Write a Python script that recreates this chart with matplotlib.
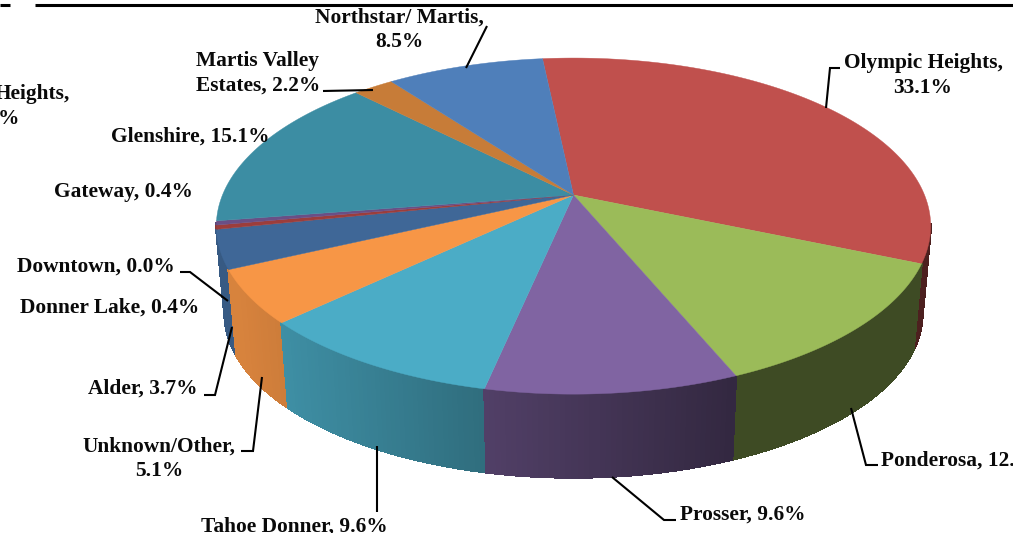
import numpy as np
import matplotlib
matplotlib.use("Agg")
import matplotlib.pyplot as plt
from matplotlib.colors import to_rgb

# ---- data ----
categories = ["Olympic Heights", "Ponderosa", "Prosser", "Tahoe Donner", "Unknown/Other",
              "Alder", "Donner Lake", "Downtown", "Gateway", "Glenshire",
              "Martis Valley Estates", "Northstar/ Martis", "Heights"]
values = [33.1, 12.3, 9.6, 9.6, 5.1, 3.7, 0.4, 0.0, 0.4, 15.1, 2.2, 8.5, 0.0]
colors = ["#C0504D", "#9BBB59", "#8064A2", "#4BACC6", "#F79646", "#3F6797", "#9C3D3B",
          "#7D9A48", "#6A4F86", "#3C8DA3", "#C77C38", "#4F7FBA", "#C0504D"]

# ---- label layout: text, x, y, horizontal alignment ----
labels = [
    ("Olympic Heights,\n33.1%", 923, 74, "center"),
    ("Northstar/ Martis,\n8.5%", 399, 28, "center"),
    ("Martis Valley\nEstates, 2.2%", 258, 72, "center"),
    ("Glenshire, 15.1%", 190, 135, "center"),
    ("Gateway, 0.4%", 123, 190, "center"),
    ("Downtown, 0.0%", 96, 265, "center"),
    ("Donner Lake, 0.4%", 110, 306, "center"),
    ("Alder, 3.7%", 143, 387, "center"),
    ("Unknown/Other,\n5.1%", 159, 457, "center"),
    ("Tahoe Donner, 9.6%", 294, 525, "center"),
    ("Prosser, 9.6%", 743, 513, "center"),
    ("Ponderosa, 12.3%", 881, 459, "left"),
    ("Heights,", 70, 93, "right"),
    ("0.0%", 19, 118, "right"),
]
leaders = [
    [(826, 108), (830, 68), (840, 68)],
    [(466, 68), (487, 26)],
    [(323, 91), (373, 90)],
    [(180, 272), (190, 272), (228, 301)],
    [(204, 395), (215, 395), (232, 327)],
    [(241, 451), (253, 451), (262, 377)],
    [(377, 446), (377, 512)],
    [(612, 477), (664, 520), (676, 520)],
    [(851, 408), (866, 465), (878, 465)],
]

# ---- projection of the tilted disc ----
CX, CY, A, B, K = 573.5, 195.0, 351.0, 162.3, 0.185
START_DEG = -6.0
BOTTOM_SCALE, BOTTOM_DROP = 0.977, 88.0


def rim(theta_deg, bottom=False):
    t = np.radians(theta_deg)
    u, v = np.sin(t), np.cos(t)
    w = 1 + K * v
    x, y = A * u / w, B * v / w
    if bottom:
        return CX + BOTTOM_SCALE * x, CY + BOTTOM_DROP - BOTTOM_SCALE * y
    return CX + x, CY - y


def shade(x):
    return np.interp(x, [240, 730], [0.87, 0.40])


fig = plt.figure(figsize=(10.13, 5.33), dpi=100)
ax = fig.add_axes([0, 0, 1, 1])
ax.set_xlim(0, 1013)
ax.set_ylim(533, 0)
ax.axis("off")

fracs = np.array(values) / sum(values)
edges = START_DEG + 360 * np.concatenate([[0], np.cumsum(fracs)])

# side wall, only the near part of the rim, far segments first
segments = []
for i, col in enumerate(colors):
    t0, t1 = edges[i], edges[i + 1]
    if t1 - t0 <= 0:
        continue
    n = max(1, int(np.ceil((t1 - t0) / 0.75)))
    th = np.linspace(t0, t1, n + 1)
    for a, b in zip(th[:-1], th[1:]):
        if np.cos(np.radians((a + b) / 2)) < -0.17:
            segments.append((a, b, col))
segments.sort(key=lambda s: np.cos(np.radians((s[0] + s[1]) / 2)), reverse=True)
for a, b, col in segments:
    xt, yt = rim(np.array([a, b]))
    xb, yb = rim(np.array([b, a]), bottom=True)
    f = shade(xt.mean())
    c = tuple(f * np.array(to_rgb(col)))
    ax.fill(np.r_[xt, xb], np.r_[yt, yb], facecolor=c, edgecolor=c, lw=1.0,
            antialiased=False, zorder=2)

# top surface
for i, col in enumerate(colors):
    t0, t1 = edges[i], edges[i + 1]
    if t1 - t0 <= 0:
        continue
    th = np.linspace(t0, t1, max(2, int((t1 - t0) * 2)))
    x, y = rim(th)
    ax.fill(np.r_[CX, x], np.r_[CY, y], facecolor=col, edgecolor=col, lw=0.3, zorder=3)

# rule at the top
ax.plot([35, 1013], [4.5, 4.5], color="black", lw=2.2, solid_capstyle="butt", zorder=5)
ax.plot([0, 10], [4.5, 4.5], color="black", lw=2.2, solid_capstyle="butt", zorder=5)

for pts in leaders:
    xs, ys = zip(*pts)
    ax.plot(xs, ys, color="black", lw=1.5, solid_capstyle="butt", solid_joinstyle="miter", zorder=6)

for txt, x, y, ha in labels:
    ax.text(x, y + 1.5, txt, ha=ha, va="center", multialignment="center",
            family="Liberation Serif", fontweight="bold", fontsize=15.4,
            color="#0a0a0a", linespacing=1.3, zorder=7)

fig.savefig("out.png", dpi=100)
